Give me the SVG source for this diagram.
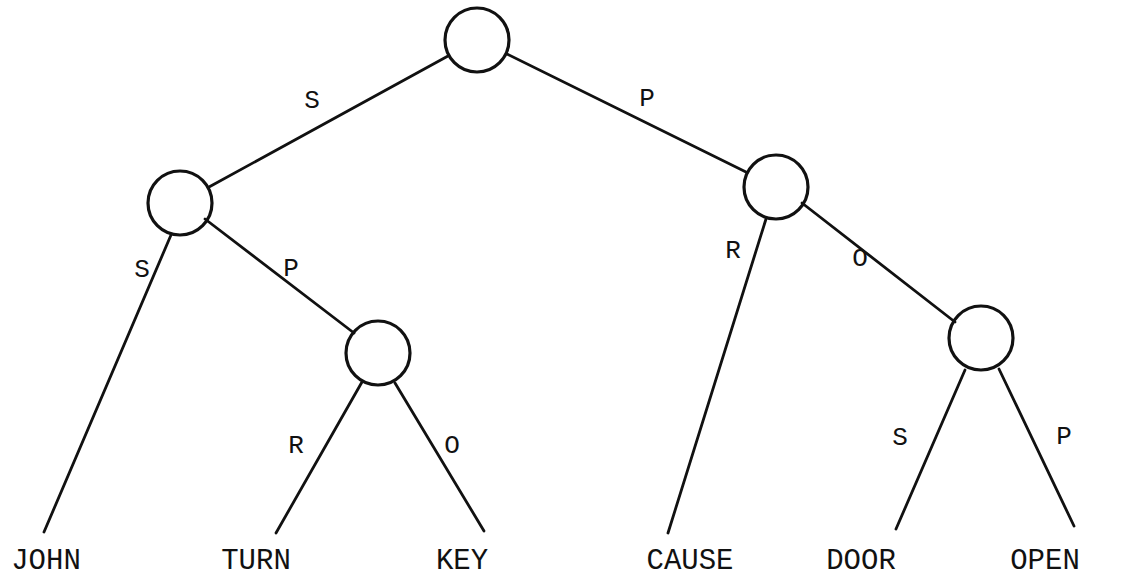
<svg xmlns="http://www.w3.org/2000/svg" width="1126" height="582" viewBox="0 0 1126 582">
<style>
.n{fill:none;stroke:#111;stroke-width:3.2}
.e{stroke:#111;stroke-width:2.8;fill:none;stroke-linecap:round}
.lbl{font-family:"Liberation Mono","DejaVu Sans Mono",monospace;font-size:26px;fill:#111;text-anchor:middle}
.leaf{font-family:"Liberation Mono","DejaVu Sans Mono",monospace;font-size:29px;fill:#111;text-anchor:middle}
</style>
<rect width="1126" height="582" fill="#fff"/>
<g id="connectors">
<line class="e" x1="448" y1="56" x2="209" y2="187"/>
<line class="e" x1="507" y1="54" x2="746" y2="172"/>
<line class="e" x1="171" y1="235" x2="44" y2="532"/>
<line class="e" x1="205" y1="219" x2="354" y2="333"/>
<line class="e" x1="362" y1="382" x2="276" y2="533"/>
<line class="e" x1="395" y1="383" x2="484" y2="531"/>
<line class="e" x1="766" y1="219" x2="668" y2="533"/>
<line class="e" x1="802" y1="203" x2="955" y2="322"/>
<line class="e" x1="965" y1="370" x2="896" y2="529"/>
<line class="e" x1="999" y1="369" x2="1074" y2="526"/>
</g>
<g id="labels">
<text class="lbl" x="312" y="108">S</text>
<text class="lbl" x="647" y="106">P</text>
<text class="lbl" x="142" y="277">S</text>
<text class="lbl" x="291" y="276">P</text>
<text class="lbl" x="733" y="258">R</text>
<text class="lbl" x="860" y="266">O</text>
<text class="lbl" x="296" y="453">R</text>
<text class="lbl" x="452" y="453">O</text>
<text class="lbl" x="900" y="445">S</text>
<text class="lbl" x="1064" y="444">P</text>
</g>
<g id="n-root"><circle class="n" cx="477" cy="40" r="32"/></g>
<g id="n-left"><circle class="n" cx="180" cy="203" r="32"/></g>
<g id="n-right"><circle class="n" cx="776" cy="187" r="32"/></g>
<g id="n-lp"><circle class="n" cx="378" cy="353" r="32"/></g>
<g id="n-ro"><circle class="n" cx="981" cy="338" r="32"/></g>
<g id="leaf-john"><text class="leaf" x="46" y="569">JOHN</text></g>
<g id="leaf-turn"><text class="leaf" x="256" y="569">TURN</text></g>
<g id="leaf-key"><text class="leaf" x="462" y="569">KEY</text></g>
<g id="leaf-cause"><text class="leaf" x="690" y="569">CAUSE</text></g>
<g id="leaf-door"><text class="leaf" x="861" y="569">DOOR</text></g>
<g id="leaf-open"><text class="leaf" x="1045" y="569">OPEN</text></g>
</svg>
